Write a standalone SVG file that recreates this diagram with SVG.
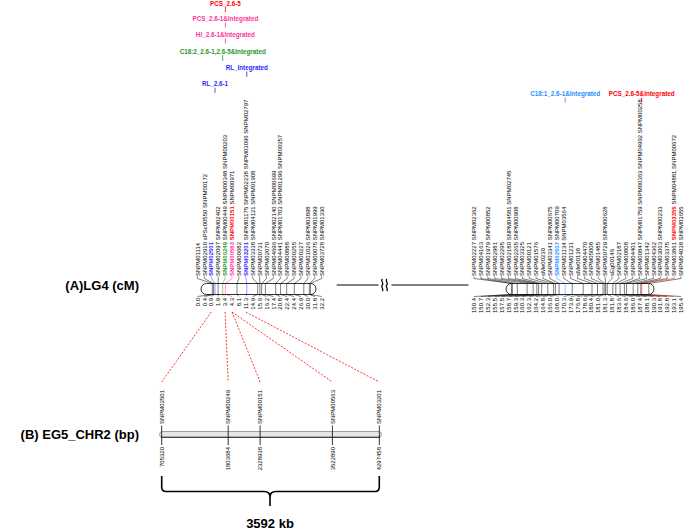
<svg xmlns="http://www.w3.org/2000/svg" width="685" height="530" viewBox="0 0 685 530">
<style>
text{font-family:"Liberation Sans",Arial,sans-serif}
.m{font-size:6px;fill:#000}
.n{font-size:6px;fill:#000;text-anchor:end}
.q{font-size:6.3px;font-weight:bold;text-anchor:middle}
.h{font-size:13px;font-weight:bold;fill:#000}
.b{font-weight:bold}
.fan{fill:none;stroke:#000;stroke-width:0.5}
.bar{fill:none;stroke:#000;stroke-width:0.8}
.tk{stroke-width:0.8}
.dash{fill:none;stroke:#ff0000;stroke-width:0.8;stroke-dasharray:2 1.5}
.red{fill:#ff0000}.pink{fill:#ff3399}.grn{fill:#1f9a1f}.blu{fill:#2a2aff}.lb{fill:#1e90ff}
.sred{stroke:#ff0000}.spink{stroke:#ff3399}.sgrn{stroke:#1f9a1f}.sblu{stroke:#2a2aff}.slb{stroke:#1e90ff}
</style>

<g id="titles">
<text class="h" x="139" y="290" text-anchor="end">(A)LG4 (cM)</text>
<text class="h" x="139" y="439" text-anchor="end">(B) EG5_CHR2 (bp)</text>
<text class="h" x="270" y="528" text-anchor="middle" font-size="12.5">3592 kb</text>
</g>

<g id="qtl-lg4-left">
<text class="q red" x="225.4" y="5.5">PCS_2.6-5</text>
<line x1="225.4" y1="7" x2="225.4" y2="12" class="sred tk"/>
<text class="q pink" x="225.4" y="21">PCS_2.6-1&amp;Integrated</text>
<line x1="225.4" y1="22.5" x2="225.4" y2="27.5" class="spink tk"/>
<text class="q pink" x="225.4" y="37">HI_2.6-1&amp;Integrated</text>
<line x1="225.4" y1="38.5" x2="225.4" y2="43.5" class="spink tk"/>
<text class="q grn" x="222.7" y="53.5">C18:2_2.6-1,2.6-5&amp;Integrated</text>
<line x1="222.7" y1="55" x2="222.7" y2="61" class="sgrn tk"/>
<text class="q blu" x="246.8" y="70">RL_Integrated</text>
<line x1="246.8" y1="71.5" x2="246.8" y2="77" class="sblu tk"/>
<text class="q blu" x="215" y="86">RL_2.6-1</text>
<line x1="215" y1="87.5" x2="215" y2="93" class="sblu tk"/>
</g>

<g id="qtl-lg4-right">
<text class="q lb" x="565.2" y="96">C18:1_2.6-1&amp;Integrated</text>
<line x1="565.2" y1="97.5" x2="565.2" y2="102.5" class="slb tk"/>
<text class="q red" x="641.7" y="96">PCS_2.6-5&amp;Integrated</text>
<line x1="641.7" y1="97.5" x2="641.7" y2="102.5" class="sred tk"/>
</g>

<g id="connectors">
<path class="fan" d="M197.5,276.5V278.5L212.3,283.5V294.5L197.5,296.5"/>
<path class="fan" d="M204.4,276.5V278.5L213.5,283.5V294.5L204.4,296.5"/>
<path class="fan" d="M218.2,276.5V278.5L218.1,283.5V294.5L218.2,296.5"/>
<path class="fan" d="M238.9,276.5V278.5L237,283.5V294.5L238.9,296.5"/>
<path class="fan" d="M252.7,276.5V278.5L257.7,283.5V294.5L252.7,296.5"/>
<path class="fan" d="M259.6,276.5V278.5L259.9,283.5V294.5L259.6,296.5"/>
<path class="fan" d="M266.5,276.5V278.5L261.7,283.5V294.5L266.5,296.5"/>
<path class="fan" d="M273.4,276.5V278.5L265.4,283.5V294.5L273.4,296.5"/>
<path class="fan" d="M280.3,276.5V278.5L275.7,283.5V294.5L280.3,296.5"/>
<path class="fan" d="M287.2,276.5V278.5L280.6,283.5V294.5L287.2,296.5"/>
<path class="fan" d="M294.1,276.5V278.5L286.7,283.5V294.5L294.1,296.5"/>
<path class="fan" d="M301,276.5V278.5L294.3,283.5V294.5L301,296.5"/>
<path class="fan" d="M307.9,276.5V278.5L303.8,283.5V294.5L307.9,296.5"/>
<path class="fan" d="M314.8,276.5V278.5L309.3,283.5V294.5L314.8,296.5"/>
<path class="fan" d="M321.7,276.5V278.5L310.5,283.5V294.5L321.7,296.5"/>
<path class="fan sblu" d="M211.3,276.5V278.5L215,283.5V294.5L211.3,296.5"/>
<path class="fan sgrn" d="M225.1,276.5V278.5L222.7,283.5V294.5L225.1,296.5"/>
<path class="fan spink" d="M232,276.5V278.5L225.4,283.5V294.5L232,296.5"/>
<path class="fan sblu" d="M245.8,276.5V278.5L246.8,283.5V294.5L245.8,296.5"/>
<path class="fan" d="M474,276.5V278.5L511.5,283.5V294.5L474,296.5"/>
<path class="fan" d="M480.9,276.5V278.5L512.4,283.5V294.5L480.9,296.5"/>
<path class="fan" d="M487.8,276.5V278.5L517.3,283.5V294.5L487.8,296.5"/>
<path class="fan" d="M494.7,276.5V278.5L527.1,283.5V294.5L494.7,296.5"/>
<path class="fan" d="M501.6,276.5V278.5L533.2,283.5V294.5L501.6,296.5"/>
<path class="fan" d="M508.5,276.5V278.5L536.8,283.5V294.5L508.5,296.5"/>
<path class="fan" d="M515.4,276.5V278.5L538.6,283.5V294.5L515.4,296.5"/>
<path class="fan" d="M522.3,276.5V278.5L541.7,283.5V294.5L522.3,296.5"/>
<path class="fan" d="M529.2,276.5V278.5L547.8,283.5V294.5L529.2,296.5"/>
<path class="fan" d="M536.1,276.5V278.5L553.6,283.5V294.5L536.1,296.5"/>
<path class="fan" d="M543,276.5V278.5L555.4,283.5V294.5L543,296.5"/>
<path class="fan" d="M549.9,276.5V278.5L559.1,283.5V294.5L549.9,296.5"/>
<path class="fan" d="M563.7,276.5V278.5L572.2,283.5V294.5L563.7,296.5"/>
<path class="fan" d="M570.6,276.5V278.5L583.2,283.5V294.5L570.6,296.5"/>
<path class="fan" d="M577.5,276.5V278.5L592,283.5V294.5L577.5,296.5"/>
<path class="fan" d="M584.4,276.5V278.5L597.5,283.5V294.5L584.4,296.5"/>
<path class="fan" d="M591.3,276.5V278.5L603,283.5V294.5L591.3,296.5"/>
<path class="fan" d="M598.2,276.5V278.5L604.8,283.5V294.5L598.2,296.5"/>
<path class="fan" d="M605.1,276.5V278.5L605.7,283.5V294.5L605.1,296.5"/>
<path class="fan" d="M612,276.5V278.5L607.3,283.5V294.5L612,296.5"/>
<path class="fan" d="M618.9,276.5V278.5L612.8,283.5V294.5L618.9,296.5"/>
<path class="fan" d="M625.8,276.5V278.5L615.8,283.5V294.5L625.8,296.5"/>
<path class="fan" d="M632.7,276.5V278.5L620.1,283.5V294.5L632.7,296.5"/>
<path class="fan" d="M639.6,276.5V278.5L624.4,283.5V294.5L639.6,296.5"/>
<path class="fan" d="M646.5,276.5V278.5L626.5,283.5V294.5L646.5,296.5"/>
<path class="fan" d="M653.4,276.5V278.5L633.2,283.5V294.5L653.4,296.5"/>
<path class="fan" d="M660.3,276.5V278.5L637.8,283.5V294.5L660.3,296.5"/>
<path class="fan" d="M667.2,276.5V278.5L640.8,283.5V294.5L667.2,296.5"/>
<path class="fan" d="M681,276.5V278.5L648.8,283.5V294.5L681,296.5"/>
<path class="fan slb" d="M556.8,276.5V278.5L565.2,283.5V294.5L556.8,296.5"/>
<path class="fan sred" d="M674.1,276.5V278.5L641.7,283.5V294.5L674.1,296.5"/>
<path fill="none" stroke="#000" stroke-width="1" d="M336.7,285H378.5M391.5,285H468.5"/>
<path fill="none" stroke="#000" stroke-width="1.3" d="M382.3,279c-2.2,2 2.2,4 0,6c-2.2,2 2.2,4 0,6M386.8,279c-2.2,2 2.2,4 0,6c-2.2,2 2.2,4 0,6"/>
<path class="dash" d="M211.3,312L161.7,382"/>
<path class="dash" d="M225.1,312L228.2,382"/>
<path class="dash" d="M232,312L260.1,382"/>
<path class="dash" d="M232,312L332.4,382"/>
<path class="dash" d="M245.8,312L379.3,382"/>
<path fill="none" stroke="#000" stroke-width="1.6" d="M161.7,476V487Q161.7,491.5 166,491.5H264Q270,491.5 270,497V506M270,497Q270,491.5 276,491.5H375Q379.3,491.5 379.3,487V476"/>
</g>

<g id="lg4-left">
<rect class="bar" x="201" y="283.5" width="115" height="11" rx="5.5"/>
<g class="m">
<text transform="translate(199.6,276) rotate(-90)">SNPM01114</text>
<text transform="translate(206.5,276) rotate(-90)">SNPM02910 sPSc00550 SNPM00172</text>
<text transform="translate(213.4,276) rotate(-90)"><tspan class="blu b">SNPM02501</tspan></text>
<text transform="translate(220.3,276) rotate(-90)">SNPM02097 SNPM02402</text>
<text transform="translate(227.2,276) rotate(-90)"><tspan class="grn b">SNPM00249</tspan> SNPM00449 SNPM00348 SNPM00203</text>
<text transform="translate(234.1,276) rotate(-90)"><tspan class="pink b">SNPM00563</tspan> <tspan class="red b">SNPM00151</tspan> SNPM00971</text>
<text transform="translate(241,276) rotate(-90)">SNPM00682</text>
<text transform="translate(247.9,276) rotate(-90)"><tspan class="blu b">SNPM03201</tspan> SNPM01175 SNPM02238 SNPM03096 SNPM02797</text>
<text transform="translate(254.8,276) rotate(-90)">SNPM03338 SNPM04121 SNPM01908</text>
<text transform="translate(261.7,276) rotate(-90)">SNPM00731</text>
<text transform="translate(268.6,276) rotate(-90)">SNPM02070</text>
<text transform="translate(275.5,276) rotate(-90)">SNPM04696 SNPM02140 SNPM00699</text>
<text transform="translate(282.4,276) rotate(-90)">SNPM04441 SNPM01703 SNPM01296 SNPM00357</text>
<text transform="translate(289.3,276) rotate(-90)">SNPM00888</text>
<text transform="translate(296.2,276) rotate(-90)">SNPM00255</text>
<text transform="translate(303.1,276) rotate(-90)">SNPM00227</text>
<text transform="translate(310,276) rotate(-90)">SNPM01026 SNPM03898</text>
<text transform="translate(316.9,276) rotate(-90)">SNPM00075 SNPM01999</text>
<text transform="translate(323.8,276) rotate(-90)">SNPM03728 SNPM01330</text>
</g>
<g class="n">
<text transform="translate(199.6,298) rotate(-90)">0.0</text>
<text transform="translate(206.5,298) rotate(-90)">0.4</text>
<text transform="translate(213.4,298) rotate(-90)">0.9</text>
<text transform="translate(220.3,298) rotate(-90)">1.9</text>
<text transform="translate(227.2,298) rotate(-90)">3.4</text>
<text transform="translate(234.1,298) rotate(-90)">4.3</text>
<text transform="translate(241,298) rotate(-90)">8.1</text>
<text transform="translate(247.9,298) rotate(-90)">11.3</text>
<text transform="translate(254.8,298) rotate(-90)">14.9</text>
<text transform="translate(261.7,298) rotate(-90)">15.6</text>
<text transform="translate(268.6,298) rotate(-90)">16.2</text>
<text transform="translate(275.5,298) rotate(-90)">17.4</text>
<text transform="translate(282.4,298) rotate(-90)">20.8</text>
<text transform="translate(289.3,298) rotate(-90)">22.4</text>
<text transform="translate(296.2,298) rotate(-90)">24.4</text>
<text transform="translate(303.1,298) rotate(-90)">26.9</text>
<text transform="translate(310,298) rotate(-90)">30.0</text>
<text transform="translate(316.9,298) rotate(-90)">31.8</text>
<text transform="translate(323.8,298) rotate(-90)">32.2</text>
</g>
</g>

<g id="lg4-right">
<rect class="bar" x="506" y="283.5" width="148" height="11" rx="5.5"/>
<g class="m">
<text transform="translate(476.1,276) rotate(-90)">SNPM02227 SNPM02362</text>
<text transform="translate(483,276) rotate(-90)">SNPM04163</text>
<text transform="translate(489.9,276) rotate(-90)">SNPM01979 SNPM00852</text>
<text transform="translate(496.8,276) rotate(-90)">SNPM02981</text>
<text transform="translate(503.7,276) rotate(-90)">SNPM02295</text>
<text transform="translate(510.6,276) rotate(-90)">SNPM02180 SNPM04581 SNPM02745</text>
<text transform="translate(517.5,276) rotate(-90)">SNPM02265 SNPM00908</text>
<text transform="translate(524.4,276) rotate(-90)">SNPM03325</text>
<text transform="translate(531.3,276) rotate(-90)">SNPM00121</text>
<text transform="translate(538.2,276) rotate(-90)">SNPM01576</text>
<text transform="translate(545.1,276) rotate(-90)">sMe00230</text>
<text transform="translate(552,276) rotate(-90)">SNPM03341 SNPM00675</text>
<text transform="translate(558.9,276) rotate(-90)"><tspan class="lb b">SNPM02507</tspan> SNPM00709</text>
<text transform="translate(565.8,276) rotate(-90)">SNPM01134 SNPM03564</text>
<text transform="translate(572.7,276) rotate(-90)">SNPM01231</text>
<text transform="translate(579.6,276) rotate(-90)">sMe00138</text>
<text transform="translate(586.5,276) rotate(-90)">SNPM04470</text>
<text transform="translate(593.4,276) rotate(-90)">SNPM05008</text>
<text transform="translate(600.3,276) rotate(-90)">SNPM01485</text>
<text transform="translate(607.2,276) rotate(-90)">SNPM00729 SNPM00628</text>
<text transform="translate(614.1,276) rotate(-90)">sEg00146</text>
<text transform="translate(621,276) rotate(-90)">SNPM02187</text>
<text transform="translate(627.9,276) rotate(-90)">SNPM00808</text>
<text transform="translate(634.8,276) rotate(-90)">SNPM04401</text>
<text transform="translate(641.7,276) rotate(-90)">SNPM00847 SNPM01759 SNPM00363 SNPM04992 SNPM00258</text>
<text transform="translate(648.6,276) rotate(-90)">SNPM01342</text>
<text transform="translate(655.5,276) rotate(-90)">SNPM04362</text>
<text transform="translate(662.4,276) rotate(-90)">SNPM03063 SNPM00233</text>
<text transform="translate(669.3,276) rotate(-90)">SNPM03375</text>
<text transform="translate(676.2,276) rotate(-90)">SNPM03861 <tspan class="red b">SNPM03355</tspan> SNPM04881 SNPM00672</text>
<text transform="translate(683.1,276) rotate(-90)">SNPM04038 SNPM03655</text>
</g>
<g class="n">
<text transform="translate(476.1,298) rotate(-90)">150.4</text>
<text transform="translate(483,298) rotate(-90)">150.7</text>
<text transform="translate(489.9,298) rotate(-90)">152.3</text>
<text transform="translate(496.8,298) rotate(-90)">155.5</text>
<text transform="translate(503.7,298) rotate(-90)">157.5</text>
<text transform="translate(510.6,298) rotate(-90)">158.7</text>
<text transform="translate(517.5,298) rotate(-90)">159.3</text>
<text transform="translate(524.4,298) rotate(-90)">160.3</text>
<text transform="translate(531.3,298) rotate(-90)">162.3</text>
<text transform="translate(538.2,298) rotate(-90)">164.2</text>
<text transform="translate(545.1,298) rotate(-90)">164.8</text>
<text transform="translate(552,298) rotate(-90)">166.0</text>
<text transform="translate(558.9,298) rotate(-90)">168.0</text>
<text transform="translate(565.8,298) rotate(-90)">170.3</text>
<text transform="translate(572.7,298) rotate(-90)">173.9</text>
<text transform="translate(579.6,298) rotate(-90)">176.8</text>
<text transform="translate(586.5,298) rotate(-90)">178.6</text>
<text transform="translate(593.4,298) rotate(-90)">180.4</text>
<text transform="translate(600.3,298) rotate(-90)">181.0</text>
<text transform="translate(607.2,298) rotate(-90)">181.3</text>
<text transform="translate(614.1,298) rotate(-90)">181.8</text>
<text transform="translate(621,298) rotate(-90)">183.6</text>
<text transform="translate(627.9,298) rotate(-90)">184.6</text>
<text transform="translate(634.8,298) rotate(-90)">186.0</text>
<text transform="translate(641.7,298) rotate(-90)">187.4</text>
<text transform="translate(648.6,298) rotate(-90)">188.1</text>
<text transform="translate(655.5,298) rotate(-90)">190.3</text>
<text transform="translate(662.4,298) rotate(-90)">191.8</text>
<text transform="translate(669.3,298) rotate(-90)">192.8</text>
<text transform="translate(676.2,298) rotate(-90)">193.1</text>
<text transform="translate(683.1,298) rotate(-90)">195.4</text>
</g>
</g>

<g id="chr2">
<rect x="159.5" y="431.5" width="222" height="6" rx="3" fill="#e6e6e6" stroke="#888" stroke-width="0.8"/>
<line x1="161" y1="437.2" x2="380" y2="437.2" stroke="#000" stroke-width="0.8"/>
<g stroke="#000" stroke-width="0.8">
<line x1="161.7" y1="425.5" x2="161.7" y2="445"/>
<line x1="228.2" y1="425.5" x2="228.2" y2="445"/>
<line x1="260.1" y1="425.5" x2="260.1" y2="445"/>
<line x1="332.4" y1="425.5" x2="332.4" y2="445"/>
<line x1="379.3" y1="425.5" x2="379.3" y2="445"/>
</g>
<g class="m">
<text transform="translate(163.8,424) rotate(-90)">SNPM02501</text>
<text transform="translate(230.3,424) rotate(-90)">SNPM00249</text>
<text transform="translate(262.2,424) rotate(-90)">SNPM00151</text>
<text transform="translate(334.5,424) rotate(-90)">SNPM00563</text>
<text transform="translate(381.4,424) rotate(-90)">SNPM03201</text>
</g>
<g class="n">
<text transform="translate(163.8,447) rotate(-90)">705320</text>
<text transform="translate(230.3,447) rotate(-90)">1803684</text>
<text transform="translate(262.2,447) rotate(-90)">2328938</text>
<text transform="translate(334.5,447) rotate(-90)">3522890</text>
<text transform="translate(381.4,447) rotate(-90)">4297458</text>
</g>
</g>
</svg>
